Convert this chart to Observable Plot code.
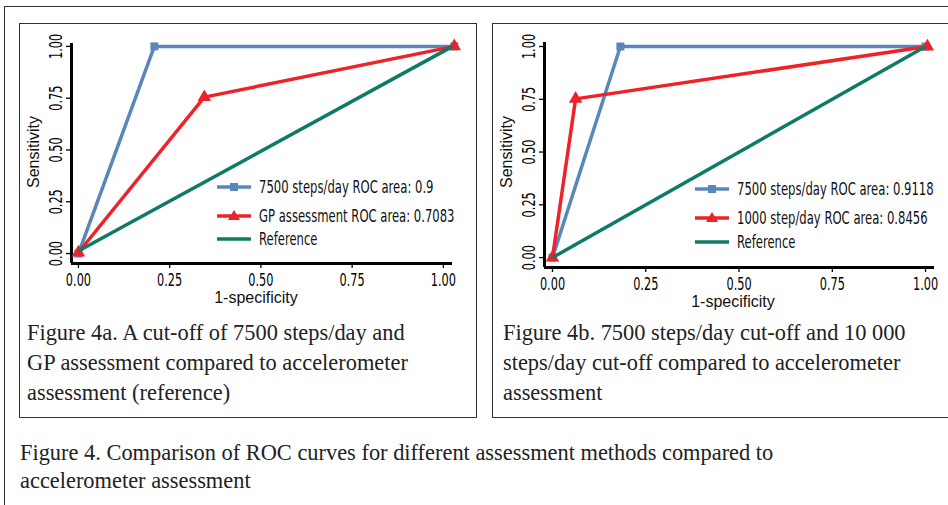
<!DOCTYPE html>
<html><head><meta charset="utf-8">
<script src="https://cdn.jsdelivr.net/npm/d3@7"></script>
<script src="https://cdn.jsdelivr.net/npm/@observablehq/plot@0.6"></script>
<style>
body{margin:0;background:#fff;}
#page{position:relative;width:948px;height:505px;overflow:hidden;background:#fff;}
.box{position:absolute;border:1.5px solid #333;box-sizing:border-box;}
.cap{position:absolute;font-family:"Liberation Serif","Times New Roman",serif;font-size:22.4px;line-height:30px;color:#222;white-space:nowrap;}
.title{position:absolute;font-family:"Liberation Sans",Arial,sans-serif;font-size:16px;color:#111;white-space:nowrap;}
.leg{position:absolute;font-family:"DejaVu Sans Condensed","Liberation Sans",sans-serif;font-size:17px;color:#111;white-space:nowrap;display:flex;align-items:center;height:20px;}
.leg svg{margin-right:8px;flex:none;}
.leg span{display:inline-block;transform:scaleX(0.76);transform-origin:0 50%;}
.plotwrap{position:absolute;}
</style></head>
<body>
<div id="page">
  <div class="box" style="left:4px;top:6px;width:960px;height:520px;"></div>
  <div class="box" style="left:19px;top:23px;width:458px;height:395px;"></div>
  <div class="box" style="left:492px;top:23px;width:470px;height:395px;"></div>
  <div id="pa" class="plotwrap" style="left:20px;top:24px;"></div>
  <div id="pb" class="plotwrap" style="left:493px;top:24px;"></div>
</div>
<script>
// ---- data ----
const xTicks = [0, 0.25, 0.5, 0.75, 1];
const yTicks = [0, 0.25, 0.5, 0.75, 1];
const xTitle = "1-specificity";
const yTitle = "Sensitivity";

// Figure 4a
const a_7500_x = [0, 0.208, 1.03];
const a_7500_y = [0, 1, 1];
const a_gp_x = [0, 0.345, 1.03];
const a_gp_y = [0.005, 0.755, 1];
const a_ref_x = [0, 1.025];
const a_ref_y = [0.012, 1];
const a_labels = ["7500 steps/day ROC area: 0.9", "GP assessment ROC area: 0.7083", "Reference"];

// Figure 4b
const b_7500_x = [0, 0.182, 1.0];
const b_7500_y = [0, 1, 1];
const b_10000_x = [0, 0.062, 1.005];
const b_10000_y = [0, 0.752, 1];
const b_ref_x = [0, 1.0];
const b_ref_y = [0, 1];
const b_labels = ["7500 steps/day ROC area: 0.9118", "1000 step/day ROC area: 0.8456", "Reference"];

const capA = ["Figure 4a. A cut-off of 7500 steps/day and", "GP assessment compared to accelerometer", "assessment (reference)"];
const capB = ["Figure 4b. 7500 steps/day cut-off and 10 000", "steps/day cut-off compared to accelerometer", "assessment"];
const capMain = ["Figure 4. Comparison of ROC curves for different assessment methods compared to", "accelerometer assessment"];

const BLUE = "#5a87b7", RED = "#ee2228", GREEN = "#0f7a68";

function toRows(xs, ys) { return xs.map((x, i) => ({x, y: ys[i]})); }

function condense(svg, s) {
  svg.querySelectorAll('g[aria-label$="tick label"] text').forEach(t => {
    const tr = t.getAttribute("transform");
    if (tr) {
      t.setAttribute("transform", tr + ` scale(${s},1)`);
    } else {
      const x = +t.getAttribute("x") || 0, y = +t.getAttribute("y") || 0;
      t.removeAttribute("x"); t.removeAttribute("y");
      t.setAttribute("transform", `translate(${x},${y}) scale(${s},1)`);
    }
  });
}

function panel(el, cfg) {
  const marks = [
    Plot.ruleY([cfg.yDom[0]], {stroke: "#000", strokeWidth: 3}),
    Plot.ruleX([cfg.xDom[0]], {stroke: "#000", strokeWidth: 3}),
    Plot.axisX({ticks: xTicks, tickSize: 5, tickPadding: 5, tickFormat: d3.format(".2f"), label: null, strokeWidth: 1.3}),
    Plot.axisY({ticks: yTicks, tickSize: 5, tickPadding: 5, tickRotate: -90, tickFormat: d3.format(".2f"), label: null, strokeWidth: 1.3})
  ];
  for (const s of cfg.series) {
    const rows = toRows(s.x, s.y);
    marks.push(Plot.line(rows, {x: "x", y: "y", stroke: s.color, strokeWidth: 3.5, strokeLinejoin: "miter", strokeLinecap: "butt"}));
    if (s.symbol) marks.push(Plot.dot(rows, {x: "x", y: "y", symbol: s.symbol, r: s.r, fill: s.color, stroke: "none"}));
  }
  const p = Plot.plot({
    width: 450, height: 290,
    marginLeft: cfg.m[0], marginRight: cfg.m[1], marginTop: cfg.m[2], marginBottom: cfg.m[3],
    x: {domain: cfg.xDom},
    y: {domain: cfg.yDom},
    style: {fontFamily: '"DejaVu Sans Condensed","Liberation Sans",sans-serif', fontSize: "17px", color: "#000", background: "transparent", overflow: "visible"},
    marks
  });
  condense(p, 0.74);
  document.getElementById(el).appendChild(p);
}

panel("pa", {
  xDom: [-0.019, 1.025], yDom: [-0.048, 1.014], m: [51, 18, 19, 51],
  series: [
    {x: a_7500_x, y: a_7500_y, color: BLUE, symbol: "square", r: 4.5},
    {x: a_gp_x, y: a_gp_y, color: RED, symbol: "triangle", r: 5},
    {x: a_ref_x, y: a_ref_y, color: GREEN}
  ]
});
panel("pb", {
  xDom: [-0.0214, 1.024], yDom: [-0.047, 1.019], m: [51, 9, 18, 47],
  series: [
    {x: b_7500_x, y: b_7500_y, color: BLUE, symbol: "square", r: 4.5},
    {x: b_10000_x, y: b_10000_y, color: RED, symbol: "triangle", r: 5},
    {x: b_ref_x, y: b_ref_y, color: GREEN}
  ]
});

const page = document.getElementById("page");
function addTitle(text, cx, cy, rot) {
  const d = document.createElement("div");
  d.className = "title";
  d.textContent = text;
  d.style.left = cx + "px"; d.style.top = cy + "px";
  d.style.transform = "translate(-50%,-50%)" + (rot ? " rotate(-90deg)" : "");
  page.appendChild(d);
}
addTitle(yTitle, 34, 152, true);
addTitle(xTitle, 256, 298, false);
addTitle(yTitle, 507, 152, true);
addTitle(xTitle, 733, 302, false);

function legendSample(color, symbol) {
  const ns = "http://www.w3.org/2000/svg";
  const svg = document.createElementNS(ns, "svg");
  svg.setAttribute("width", 34); svg.setAttribute("height", 14);
  const l = document.createElementNS(ns, "line");
  l.setAttribute("x1", 0); l.setAttribute("x2", 34); l.setAttribute("y1", 7); l.setAttribute("y2", 7);
  l.setAttribute("stroke", color); l.setAttribute("stroke-width", 3.5);
  svg.appendChild(l);
  if (symbol === "square") {
    const r = document.createElementNS(ns, "rect");
    r.setAttribute("x", 13); r.setAttribute("y", 3); r.setAttribute("width", 8); r.setAttribute("height", 8);
    r.setAttribute("fill", color); svg.appendChild(r);
  } else if (symbol === "triangle") {
    const t = document.createElementNS(ns, "path");
    t.setAttribute("d", "M17,1 L23,11 L11,11 Z");
    t.setAttribute("fill", color); svg.appendChild(t);
  }
  return svg;
}
function addLegend(labels, x, ys) {
  const specs = [[BLUE, "square"], [RED, "triangle"], [GREEN, null]];
  labels.forEach((lab, i) => {
    const d = document.createElement("div");
    d.className = "leg";
    d.style.left = x + "px"; d.style.top = (ys[i] - 10) + "px";
    d.appendChild(legendSample(specs[i][0], specs[i][1]));
    const s = document.createElement("span");
    s.textContent = lab;
    d.appendChild(s);
    page.appendChild(d);
  });
}
addLegend(a_labels, 217, [187, 216, 239]);
addLegend(b_labels, 695, [189, 218, 242]);

function addCaption(lines, x, y, lh) {
  const d = document.createElement("div");
  d.className = "cap";
  d.style.left = x + "px"; d.style.top = y + "px"; d.style.lineHeight = lh + "px";
  d.innerHTML = lines.map(t => t.replace(/&/g, "&amp;").replace(/</g, "&lt;")).join("<br>");
  page.appendChild(d);
}
addCaption(capA, 27, 318, 30);
addCaption(capB, 503, 318, 30);
addCaption(capMain, 20, 439, 28);
</script>
</body></html>
